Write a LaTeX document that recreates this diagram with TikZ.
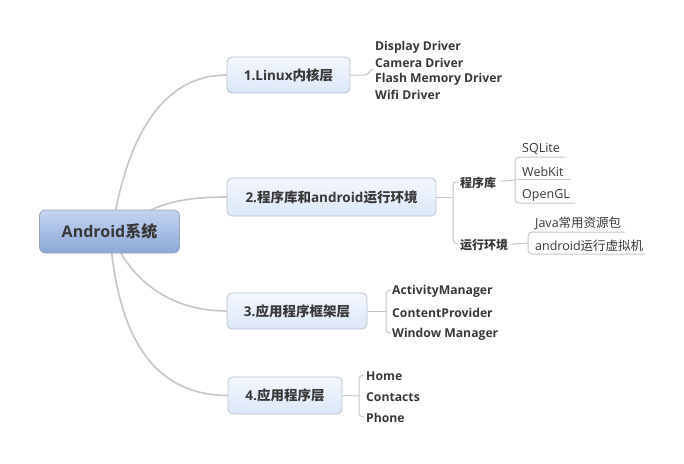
\documentclass[tikz,border=0pt]{standalone}
\usepackage{fontspec}
\usetikzlibrary{calc}
\setmainfont{Open Sans}
\newfontfamily\cjk{Noto Sans CJK SC}
\definecolor{txt}{HTML}{383838}
\definecolor{conn}{HTML}{C6C6C6}
\definecolor{boxtop}{HTML}{F3F7FE}
\definecolor{boxbot}{HTML}{DCE7F8}
\definecolor{boxline}{HTML}{B9C3D2}
\definecolor{roottop}{HTML}{C3D4F0}
\definecolor{rootbot}{HTML}{8CA8D8}
\definecolor{rootline}{HTML}{9AA6BA}
\tikzset{
  topic/.style={draw=boxline, line width=0.8pt, rounded corners=5pt, top color=boxtop, bottom color=boxbot,
    text=txt, font=\fontsize{13.5}{15}\selectfont\bfseries, inner sep=0pt},
  rootbox/.style={draw=rootline, line width=0.8pt, rounded corners=6pt, top color=roottop, bottom color=rootbot,
    text=txt, font=\fontsize{16}{18}\selectfont\bfseries, inner sep=0pt, minimum width=140pt, minimum height=43pt},
  leafb/.style={anchor=west, inner sep=0pt, text=txt, yshift=-1.2pt, font=\fontsize{12.2}{14}\selectfont\bfseries},
  leafr/.style={anchor=west, inner sep=0pt, text=txt, yshift=-1.2pt, font=\fontsize{12.5}{14}\selectfont},
  mainline/.style={draw=conn, line width=1.6pt},
  subline/.style={draw=conn, line width=1pt, rounded corners=4pt},
}
\begin{document}
\begin{tikzpicture}[x=1pt, y=-1pt]
\useasboundingbox (0,0) rectangle (684,463);
% topic nodes
\node[topic, minimum width=123pt, minimum height=36pt] (b1) at (288.5,75) {1.Linux{\cjk 内核层}};
\node[topic, minimum width=209pt, minimum height=38pt] (b2) at (331.5,197) {2.{\cjk 程序库和}android{\cjk 运行环境}};
\node[topic, minimum width=140pt, minimum height=36pt] (b3) at (297,311) {3.{\cjk 应用程序框架层}};
\node[topic, minimum width=114pt, minimum height=37pt] (b4) at (285,395.5) {4.{\cjk 应用程序层}};
% main connectors (drawn under the root)
\draw[mainline] (112,231) .. controls (130,115) and (175,75) .. (b1.west);
\draw[mainline] (130,225) .. controls (150,205) and (180,197) .. (b2.west);
\draw[mainline] (112,235) .. controls (130,280) and (170,311) .. (b3.west);
\draw[mainline] (110,235) .. controls (118,340) and (155,395) .. (b4.west);
\node[rootbox] (root) at (109.5,231.5) {Android{\cjk 系统}};
% group 1
\node[leafb] (d1) at (375,46) {Display Driver};
\node[leafb] (d2) at (375,62) {Camera Driver};
\node[leafb] (d3) at (375,78) {Flash Memory Driver};
\node[leafb] (d4) at (375,94) {Wifi Driver};
\coordinate (k1) at (365,75);
\draw[draw=conn, line width=1pt] (b1.east) -- (k1) .. controls (369,75) and (369,70) .. (373,69);
% group 2
\node[leafb, font=\fontsize{12}{14}\selectfont\bfseries\cjk] (g1) at (460,182) {程序库};
\node[leafb, font=\fontsize{12}{14}\selectfont\bfseries\cjk] (g2) at (460,244) {运行环境};
\coordinate (k2) at (453,197);
\draw[draw=conn, line width=1pt] (b2.east) -- (k2);
\draw[subline] ($(g1.west)+(-2,-1)$) -- (453,181) -- (453,243) -- ($(g2.west)+(-2,-1)$);
\node[leafr] (s1) at (522,148) {SQLite};
\node[leafr] (s2) at (522,171) {WebKit};
\node[leafr] (s3) at (522,194) {OpenGL};
\coordinate (k3) at (515,180);
\draw[draw=conn, line width=1pt] ($(g1.east)+(4,-2)$) -- (k3);
\draw[subline] (565,157) -- (515,157) -- (515,203) -- (575,203);
\draw[draw=conn, line width=1pt] (515,179) -- (570,179);
\node[leafr] (r1) at (535,222) {Java{\cjk 常用资源包}};
\node[leafr] (r2) at (535,245) {android{\cjk 运行虚拟机}};
\coordinate (k4) at (528,243);
\draw[draw=conn, line width=1pt] ($(g2.east)+(3,-1)$) -- (k4);
\draw[subline] (625,232) -- (528,232) -- (528,254) -- (645,254);
% group 3
\node[leafb] (a1) at (392,290) {ActivityManager};
\node[leafb] (a2) at (392,312) {ContentProvider};
\node[leafb] (a3) at (392,333) {Window Manager};
\coordinate (k5) at (386,311);
\draw[draw=conn, line width=1pt] (b3.east) -- (k5);
\draw[subline] (391,290) -- (386,290) -- (386,333) -- (391,333);
% group 4
\node[leafb] (h1) at (366,375) {Home};
\node[leafb] (h2) at (366,396) {Contacts};
\node[leafb] (h3) at (366,417) {Phone};
\coordinate (k6) at (359,396);
\draw[draw=conn, line width=1pt] (b4.east) -- (k6);
\draw[subline] (364,375) -- (359,375) -- (359,417) -- (364,417);
\end{tikzpicture}
\end{document}
